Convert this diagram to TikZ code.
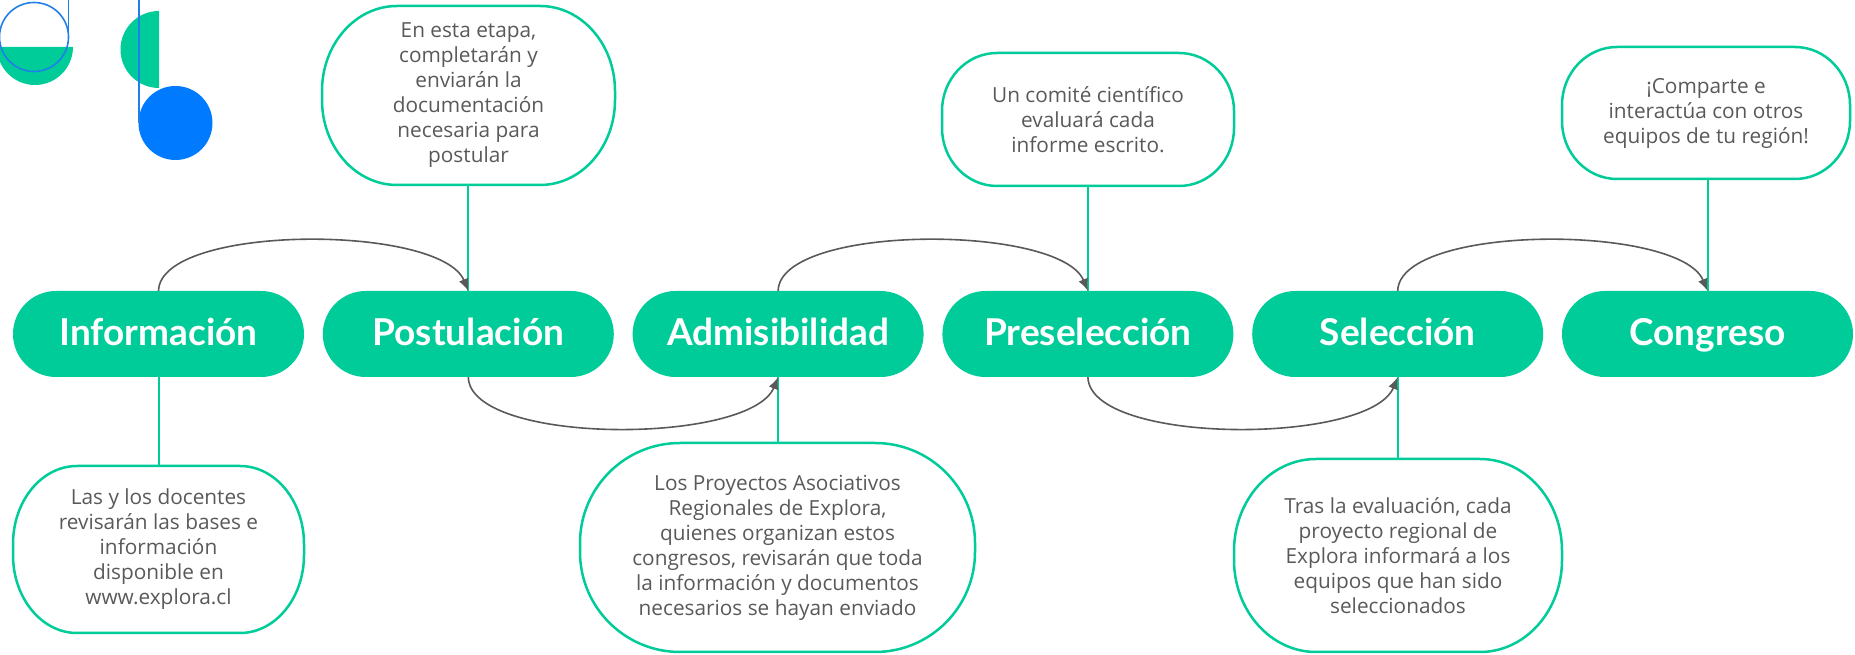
\documentclass[tikz,border=0pt]{standalone}
\usepackage{fontspec}
\setmainfont{Lato}
\newfontfamily\bubfont{Open Sans}
\usetikzlibrary{arrows.meta,calc}
\definecolor{eGreen}{RGB}{0,204,153}
\definecolor{eBlue}{RGB}{0,123,255}
\definecolor{eBlueLine}{RGB}{30,128,232}
\definecolor{eGray}{RGB}{89,89,89}
\tikzset{
  pill/.style={fill=eGreen, rounded corners=43pt, minimum width=291pt, minimum height=86pt,
    inner sep=0pt, text height=30pt, text depth=6pt, text=white, font=\bfseries\fontsize{37}{42}\selectfont},
  bubtext/.style={align=center, inner sep=0pt, text=eGray, font=\bubfont\fontsize{20.8}{25}\selectfont},
  bubline/.style={draw=eGreen, line width=2.5pt},
  conn/.style={draw=eGreen, line width=2pt},
  flow/.style={draw=eGray, line width=1.6pt, -{Latex[length=12pt,width=10pt]}},
}
% elliptical-corner bubble: #1 center x, #2 center y, #3 half width, #4 half height, #5 rx, #6 ry
\newcommand{\ebubble}[6]{%
  \draw[bubline] (#1-#3+#5,#2+#4) -- (#1+#3-#5,#2+#4)
    arc[start angle=90,end angle=0,x radius=#5,y radius=#6]
    -- (#1+#3,#2-#4+#6)
    arc[start angle=0,end angle=-90,x radius=#5,y radius=#6]
    -- (#1-#3+#5,#2-#4)
    arc[start angle=270,end angle=180,x radius=#5,y radius=#6]
    -- (#1-#3,#2+#4-#6)
    arc[start angle=180,end angle=90,x radius=#5,y radius=#6] -- cycle;}
\begin{document}
\begin{tikzpicture}[x=1pt,y=1pt]
\useasboundingbox (0,0) rectangle (1855,655);
% decoration
\fill[eGreen] (-3,608) arc[start angle=180,end angle=360,radius=38] -- cycle;
\draw[eBlueLine, line width=1.6pt] (34,618) circle[radius=34.5];
\draw[eBlueLine, line width=1.6pt] (68.5,655) -- (68.5,618);
\fill[eGreen] (159,644) arc[start angle=90,end angle=270,radius=38.5] -- cycle;
\fill[eBlue] (175.5,532) circle[radius=37];
\draw[eBlueLine, line width=1.6pt] (139,655) -- (139,532);
% pills
\node[pill] (p1) at (158.5,321) {Información};
\node[pill] (p2) at (468.3,321) {Postulación};
\node[pill] (p3) at (778.1,321) {Admisibilidad};
\node[pill] (p4) at (1087.9,321) {Preselección};
\node[pill] (p5) at (1397.7,321) {Selección};
\node[pill] (p6) at (1707.5,321) {Congreso};
% bubbles
\ebubble{158.5}{105.5}{145.5}{83.5}{64}{78}
\node[bubtext, minimum width=291pt, minimum height=167pt] (b1) at (158.5,105.5)
  {Las y los docentes\\revisarán las bases e\\información\\disponible en\\www.explora.cl};
\ebubble{468.5}{559.5}{146.5}{89.5}{75}{85}
\node[bubtext, minimum width=293pt, minimum height=179pt] (b2) at (468.5,559.5)
  {En esta etapa,\\completarán y\\enviarán la\\documentación\\necesaria para\\postular};
\ebubble{777.5}{107.5}{197.5}{104.5}{100}{100}
\node[bubtext, minimum width=395pt, minimum height=209pt] (b3) at (777.5,107.5)
  {Los Proyectos Asociativos\\Regionales de Explora,\\quienes organizan estos\\congresos, revisarán que toda\\la información y documentos\\necesarios se hayan enviado};
\ebubble{1088}{535.5}{146}{66.5}{55}{58}
\node[bubtext, minimum width=292pt, minimum height=133pt] (b4) at (1088,535.5)
  {Un comité científico\\evaluará cada\\informe escrito.};
\ebubble{1398}{99.5}{164}{96.5}{82}{92}
\node[bubtext, minimum width=328pt, minimum height=193pt] (b5) at (1398,99.5)
  {Tras la evaluación, cada\\proyecto regional de\\Explora informará a los\\equipos que han sido\\seleccionados};
\ebubble{1706}{542}{144}{66}{55}{58}
\node[bubtext, minimum width=288pt, minimum height=132pt] (b6) at (1706,542)
  {¡Comparte e\\interactúa con otros\\equipos de tu región!};
% connectors
\draw[conn] (p1.south) -- (p1.south |- b1.north);
\draw[conn] (p2.north) -- (p2.north |- b2.south);
\draw[conn] (p3.south) -- (p3.south |- b3.north);
\draw[conn] (p4.north) -- (p4.north |- b4.south);
\draw[conn] (p5.south) -- (p5.south |- b5.north);
\draw[conn] (p6.north) -- (p6.north |- b6.south);
% flow arcs
\draw[flow] (p1.north) .. controls ($(p1.north)+(2,67)$) and ($(p2.north)+(-28,67)$) .. (p2.north);
\draw[flow] (p3.north) .. controls ($(p3.north)+(2,67)$) and ($(p4.north)+(-28,67)$) .. (p4.north);
\draw[flow] (p5.north) .. controls ($(p5.north)+(2,67)$) and ($(p6.north)+(-28,67)$) .. (p6.north);
\draw[flow] (p2.south) .. controls ($(p2.south)+(2,-68)$) and ($(p3.south)+(-28,-68)$) .. (p3.south);
\draw[flow] (p4.south) .. controls ($(p4.south)+(2,-68)$) and ($(p5.south)+(-28,-68)$) .. (p5.south);
\end{tikzpicture}
\end{document}
